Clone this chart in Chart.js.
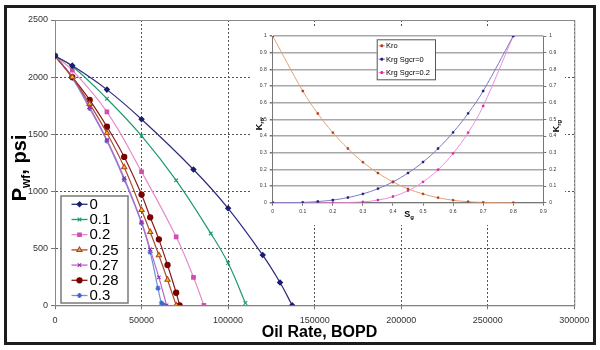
<!DOCTYPE html>
<html><head><meta charset="utf-8">
<script src="https://cdn.jsdelivr.net/npm/chart.js@4/dist/chart.umd.min.js"></script>
<style>
html,body{margin:0;padding:0;background:#fff;}
#wrap{position:relative;width:600px;height:350px;overflow:hidden;background:#fff;}
#main{position:absolute;left:0;top:0;}
#inset{position:absolute;left:252px;top:28px;background:#fff;}
#frame{position:absolute;left:4px;top:5px;width:592px;height:340px;box-sizing:border-box;border:3px solid #1c1c1c;pointer-events:none;}
</style></head><body>
<div id="wrap"><canvas id="main" width="600" height="350"></canvas><canvas id="inset" width="313" height="197"></canvas><div id="frame"></div></div>
<script>
// ---------- data: main chart (Pwf vs oil rate, by critical gas saturation) ----------
const seriesNames = ['0', '0.1', '0.2', '0.25', '0.27', '0.28', '0.3'];
const rate_0   = [0, 10000, 30000, 50000, 80000, 100000, 120000, 130000, 137000];
const pwf_0    = [2185, 2100, 1890, 1630, 1190, 850, 440, 200, 0];
const rate_01  = [0, 10000, 30000, 50000, 70000, 90000, 100000, 110000];
const pwf_01   = [2185, 2095, 1810, 1485, 1095, 630, 370, 20];
const rate_02  = [0, 10000, 30000, 50000, 70000, 80000, 86000];
const pwf_02   = [2185, 2060, 1695, 1170, 600, 245, 0];
const rate_025 = [0, 10000, 20000, 30000, 40000, 50000, 55000, 60000, 65000, 70000];
const pwf_025  = [2185, 2000, 1765, 1510, 1210, 835, 642, 438, 224, 0];
const rate_027 = [0, 10000, 20000, 30000, 40000, 50000, 55000, 60000, 64500];
const pwf_027  = [2185, 2000, 1735, 1450, 1115, 730, 490, 245, 0];
const rate_028 = [0, 10000, 20000, 30000, 40000, 50000, 55000, 60000, 65000, 70000, 72000];
const pwf_028  = [2185, 2000, 1800, 1565, 1300, 970, 771, 578, 353, 110, 0];
const rate_03  = [0, 10000, 20000, 30000, 40000, 50000, 55000, 59500, 61500, 62500];
const pwf_03   = [2185, 1990, 1725, 1440, 1100, 720, 465, 150, 20, 5];
const xTicks = [0, 50000, 100000, 150000, 200000, 250000, 300000];
const yTicks = [0, 500, 1000, 1500, 2000, 2500];

// ---------- data: inset (relative permeability) ----------
const insetNames = ['Kro', 'Krg Sgcr=0', 'Krg Sgcr=0.2'];
const sg        = [0, 0.1, 0.15, 0.2, 0.25, 0.3, 0.35, 0.4, 0.45, 0.5, 0.55, 0.6, 0.65, 0.7, 0.8];
const kro       = [1, 0.67, 0.535, 0.42, 0.325, 0.243, 0.178, 0.125, 0.083, 0.053, 0.03, 0.015, 0.006, 0.002, 0];
const krg0      = [0, 0.002, 0.007, 0.016, 0.031, 0.053, 0.084, 0.125, 0.178, 0.244, 0.325, 0.422, 0.536, 0.67, 1];
const sg2       = [0, 0.2, 0.3, 0.35, 0.4, 0.45, 0.5, 0.55, 0.6, 0.65, 0.7, 0.8];
const krg02     = [0, 0, 0.005, 0.016, 0.037, 0.072, 0.125, 0.198, 0.296, 0.42, 0.58, 1];

// ---------- styles ----------
const FONT = "'Liberation Sans', Arial, sans-serif";
const lineColors   = ['#2b2b80', '#1f9a70', '#e48ccc', '#a84a30', '#b868c8', '#8b1a1a', '#6e92dc'];
const markerFill   = ['#1c1c70', '#1f9a70', '#cf4fae', '#ffc000', '#9a2aa8', '#7a0000', '#3f63c8'];
const markerStroke = ['#1c1c70', '#1f9a70', '#cf4fae', '#a84a30', '#9a2aa8', '#7a0000', '#3f63c8'];
const markerStyle  = ['rectRot', 'crossRot', 'rect', 'triangle', 'crossRot', 'circle', 'star'];
const markerRadius = [2.5, 2.6, 2.5, 3.0, 2.4, 2.6, 2.6];

const rates = [rate_0, rate_01, rate_02, rate_025, rate_027, rate_028, rate_03];
const pwfs  = [pwf_0, pwf_01, pwf_02, pwf_025, pwf_027, pwf_028, pwf_03];
const toPts = (xs, ys) => xs.map((x, i) => ({x: x, y: ys[i]}));

function drawMarker(ctx, style, r, x, y, bw) {
  if (Chart.helpers && Chart.helpers.drawPoint) {
    Chart.helpers.drawPoint(ctx, {pointStyle: style, radius: r, rotation: 0, borderWidth: bw}, x, y);
  } else {
    ctx.beginPath(); ctx.arc(x, y, r, 0, Math.PI * 2); ctx.fill(); ctx.stroke();
  }
}
// draw text made of parts (some subscripted)
function drawParts(ctx, parts, cx, baseY, rot) {
  ctx.save();
  ctx.translate(cx, baseY);
  if (rot) ctx.rotate(rot);
  let total = 0;
  parts.forEach(p => { ctx.font = p.f; total += ctx.measureText(p.t).width; });
  let x = -total / 2;
  ctx.textBaseline = 'alphabetic';
  ctx.textAlign = 'left';
  parts.forEach(p => { ctx.font = p.f; ctx.fillStyle = '#000'; ctx.fillText(p.t, x, p.dy || 0); x += ctx.measureText(p.t).width; });
  ctx.restore();
}

const mainPlugin = {
  id: 'mainDecor',
  beforeDatasetsDraw(chart) {
    const {ctx, chartArea: a} = chart;
    ctx.save();
    ctx.strokeStyle = '#8a8a8a'; ctx.lineWidth = 1;
    ctx.strokeRect(a.left + 0.5, a.top + 0.5, a.right - a.left, a.bottom - a.top);
    ctx.restore();
  },
  afterDraw(chart) {
    const ctx = chart.ctx;
    drawParts(ctx, [
      {t: 'P', f: 'bold 20px ' + FONT},
      {t: 'wf', f: 'bold 12px ' + FONT, dy: 4},
      {t: ', psi', f: 'bold 20px ' + FONT}
    ], 26, 168, -Math.PI / 2);
    drawParts(ctx, [{t: 'Oil Rate, BOPD', f: 'bold 16px ' + FONT}], 319.5, 337, 0);
    // legend
    const bx = 61, by = 196, bw = 67, bh = 107;
    ctx.save();
    ctx.fillStyle = '#fff'; ctx.fillRect(bx, by, bw, bh);
    ctx.strokeStyle = '#7a7a7a'; ctx.lineWidth = 1.5; ctx.strokeRect(bx, by, bw, bh);
    chart.data.datasets.forEach((ds, i) => {
      const y = 204.3 + i * 15.2;
      ctx.strokeStyle = ds.borderColor; ctx.lineWidth = 1.3;
      ctx.beginPath(); ctx.moveTo(71.5, y); ctx.lineTo(87.5, y); ctx.stroke();
      ctx.fillStyle = ds.pointBackgroundColor; ctx.strokeStyle = ds.pointBorderColor; ctx.lineWidth = 1.1;
      drawMarker(ctx, ds.pointStyle, ds.pointRadius, 79.5, y, 1.1);
      ctx.fillStyle = '#000'; ctx.font = '15px ' + FONT; ctx.textBaseline = 'middle'; ctx.textAlign = 'left';
      ctx.fillText(ds.label, 89.5, y + 0.5);
    });
    ctx.restore();
  }
};

new Chart(document.getElementById('main'), {
  type: 'line',
  data: {
    datasets: seriesNames.map((n, i) => ({
      label: n,
      data: toPts(rates[i], pwfs[i]),
      borderColor: lineColors[i],
      borderWidth: 1.2,
      pointStyle: markerStyle[i],
      pointRadius: markerRadius[i],
      pointBackgroundColor: markerFill[i],
      pointBorderColor: markerStroke[i],
      pointBorderWidth: 1.1,
      tension: 0.4,
      fill: false
    }))
  },
  options: {
    responsive: false, animation: false,
    layout: {padding: {left: 0, top: 20, right: 25.7, bottom: 0}},
    plugins: {legend: {display: false}, tooltip: {enabled: false}},
    scales: {
      x: {
        type: 'linear', min: 0, max: 300000,
        afterBuildTicks: s => { s.ticks = xTicks.map(v => ({value: v})); },
        ticks: {font: {family: FONT, size: 9}, color: '#333', padding: 6, maxRotation: 0, callback: v => String(v)},
        grid: {color: '#555', lineWidth: 1, tickLength: 4, tickColor: '#777'},
        border: {display: true, color: '#777', width: 1, dash: [2, 2]},
        afterFit: s => { s.height = 44.7; }
      },
      y: {
        type: 'linear', min: 0, max: 2500,
        afterBuildTicks: s => { s.ticks = yTicks.map(v => ({value: v})); },
        ticks: {font: {family: FONT, size: 9}, color: '#333', padding: 3, callback: v => String(v)},
        grid: {color: '#555', lineWidth: 1, tickLength: 4, tickColor: '#777'},
        border: {display: true, color: '#777', width: 1, dash: [2, 2]},
        afterFit: s => { s.width = 55; }
      }
    }
  },
  plugins: [mainPlugin]
});

// ---------- inset ----------
const insetLine   = ['#e2a276', '#7a7ac0', '#ea8edc'];
const insetMarker = ['#a83c14', '#1a1a80', '#e020b0'];
const insetX = [sg, sg, sg2];
const insetY = [kro, krg0, krg02];

const insetPlugin = {
  id: 'insetDecor',
  afterDraw(chart) {
    const ctx = chart.ctx;
    drawParts(ctx, [{t: 'K', f: 'bold 9px ' + FONT}, {t: 'ro', f: 'bold 6px ' + FONT, dy: 2}], 9.5, 96, -Math.PI / 2);
    drawParts(ctx, [{t: 'K', f: 'bold 9px ' + FONT}, {t: 'rg', f: 'bold 6px ' + FONT, dy: 2}], 307, 98, -Math.PI / 2);
    drawParts(ctx, [{t: 'S', f: 'bold 9px ' + FONT}, {t: 'g', f: 'bold 6px ' + FONT, dy: 2}], 157, 189, 0);
    // legend
    const bx = 124.7, by = 11.3, bw = 58.3, bh = 40;
    ctx.save();
    ctx.fillStyle = '#fff'; ctx.fillRect(bx, by, bw, bh);
    ctx.strokeStyle = '#555'; ctx.lineWidth = 1; ctx.strokeRect(bx + 0.5, by + 0.5, bw, bh);
    chart.data.datasets.forEach((ds, i) => {
      const y = 17.8 + i * 13.4;
      ctx.strokeStyle = ds.borderColor; ctx.lineWidth = 1;
      ctx.beginPath(); ctx.moveTo(126.5, y); ctx.lineTo(133, y); ctx.stroke();
      ctx.fillStyle = ds.pointBackgroundColor; ctx.strokeStyle = ds.pointBorderColor;
      drawMarker(ctx, 'rect', 1.3, 129.8, y, 0.5);
      ctx.fillStyle = '#000'; ctx.font = '7.5px ' + FONT; ctx.textBaseline = 'middle'; ctx.textAlign = 'left';
      ctx.fillText(ds.label, 134, y + 0.5);
    });
    ctx.restore();
  }
};

const insetTickFont = {family: FONT, size: 5};
const fmt1 = v => String(Math.round(v * 10) / 10);
new Chart(document.getElementById('inset'), {
  type: 'line',
  data: {
    datasets: insetNames.map((n, i) => ({
      label: n,
      data: toPts(insetX[i], insetY[i]),
      borderColor: insetLine[i],
      borderWidth: 1,
      pointStyle: 'rect',
      pointRadius: 1.3,
      pointBackgroundColor: insetMarker[i],
      pointBorderColor: insetMarker[i],
      pointBorderWidth: 0.5,
      tension: 0.4,
      fill: false
    }))
  },
  options: {
    responsive: false, animation: false,
    layout: {padding: {left: 0, top: 8, right: 0, bottom: 0}},
    plugins: {legend: {display: false}, tooltip: {enabled: false}},
    scales: {
      x: {
        type: 'linear', min: 0, max: 0.9,
        ticks: {stepSize: 0.1, font: insetTickFont, color: '#333', padding: 3, maxRotation: 0, callback: fmt1},
        grid: {drawOnChartArea: false, tickLength: 3, tickColor: '#777'},
        border: {display: true, color: '#777', width: 1},
        afterFit: s => { s.height = 22.3; }
      },
      y: {
        type: 'linear', min: 0, max: 1,
        ticks: {stepSize: 0.1, font: insetTickFont, color: '#333', padding: 3, callback: fmt1},
        grid: {color: '#a8a8a8', lineWidth: 1.5, tickLength: 3, tickColor: '#777'},
        border: {display: true, color: '#777', width: 1},
        afterFit: s => { s.width = 20.7; }
      },
      y2: {
        type: 'linear', position: 'right', min: 0, max: 1, display: true,
        ticks: {stepSize: 0.1, font: insetTickFont, color: '#333', padding: 3, callback: fmt1},
        grid: {drawOnChartArea: false, tickLength: 3, tickColor: '#777'},
        border: {display: true, color: '#777', width: 1},
        afterFit: s => { s.width = 21.7; }
      }
    }
  },
  plugins: [insetPlugin]
});
</script></body></html>
